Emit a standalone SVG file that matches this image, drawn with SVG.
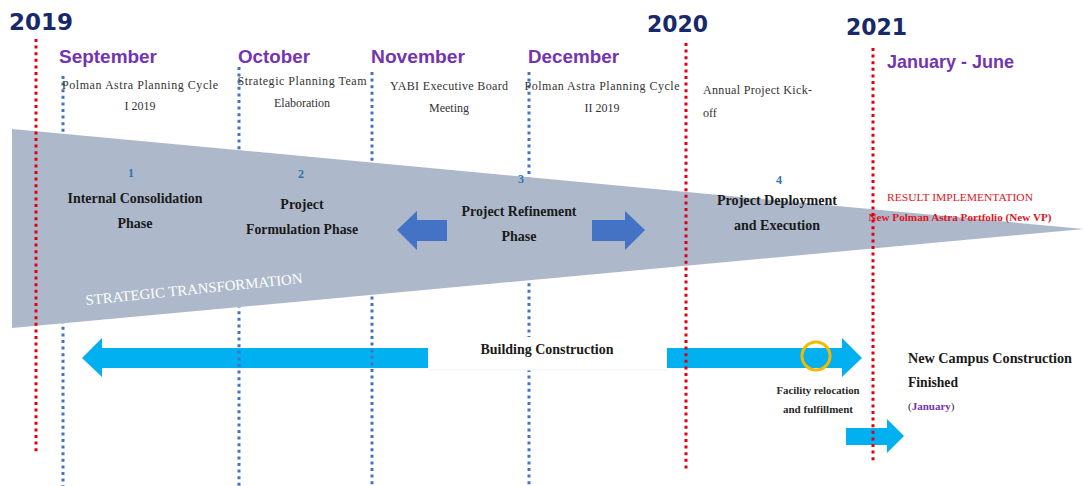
<svg xmlns="http://www.w3.org/2000/svg" width="1084" height="486" viewBox="0 0 1084 486">
  <style>
    .year { font-family: "DejaVu Sans", "Liberation Sans", sans-serif; font-weight: bold; font-size: 23px; fill: #17296b; }
    .month { font-family: "Liberation Sans", Arial, sans-serif; font-weight: bold; font-size: 19px; fill: #7434b0; }
    .note { font-family: "Liberation Serif", serif; font-size: 12px; fill: #333333; }
    .phase { font-family: "Liberation Serif", serif; font-weight: bold; font-size: 14px; fill: #1a1a1a; text-anchor: middle; }
    .num { font-family: "Liberation Serif", serif; font-weight: bold; font-size: 12px; fill: #2e75b6; text-anchor: middle; }
    .result { font-family: "Liberation Serif", serif; font-size: 11px; fill: #e0151f; text-anchor: middle; }
    .label { font-family: "Liberation Serif", serif; font-weight: bold; font-size: 14px; fill: #1a1a1a; }
    .small { font-family: "Liberation Serif", serif; font-weight: bold; font-size: 11px; fill: #2a2a2a; text-anchor: middle; }
    .mid { text-anchor: middle; }
    .red-dots { stroke: #e00010; stroke-width: 3; stroke-dasharray: 3 3.6; fill: none; }
    .blue-dots { stroke: #4472c4; stroke-width: 3; stroke-dasharray: 3 3.6; fill: none; }
    .cyan { fill: #00b0f0; }
    .blue-arrow { fill: #4472c4; }
  </style>

  <!-- construction arrows (under the month markers) -->
  <g id="construction-arrows">
    <polygon class="cyan" points="82,358 102,338 102,348 428,348 428,368 102,368 102,377"/>
    <polygon class="cyan" points="667,348 842,348 842,338 862,358 842,377 842,368 667,368"/>
    <polygon class="cyan" points="846,428 887,428 887,419 904,436 887,453 887,445 846,445"/>
  </g>

  <!-- month markers -->
  <g id="month-lines">
    <line class="blue-dots" x1="63" y1="76" x2="63" y2="486"/>
    <line class="blue-dots" x1="239" y1="67" x2="239" y2="486"/>
    <line class="blue-dots" x1="372" y1="72" x2="372" y2="486"/>
    <line class="blue-dots" x1="529" y1="72" x2="529" y2="486"/>
  </g>

  <!-- building construction label -->
  <g id="building-construction">
    <rect x="428" y="337" width="239" height="33" fill="#ffffff"/>
    <line x1="428" y1="370" x2="667" y2="370" stroke="#f3f3f3" stroke-width="1"/>
    <text class="label mid" x="547" y="354" textLength="133" lengthAdjust="spacingAndGlyphs">Building Construction</text>
  </g>

  <!-- strategic transformation wedge -->
  <g id="strategic-transformation">
    <polygon points="12,129 1084,229 12,328" fill="#adb9ca"/>
    <text x="86" y="305" transform="rotate(-5.8 86 305)" font-family="Liberation Serif, serif" font-size="14.5" fill="#ffffff" textLength="218" lengthAdjust="spacingAndGlyphs">STRATEGIC TRANSFORMATION</text>
  </g>

  <g id="phase-1">
    <text class="num" x="131" y="177">1</text>
    <text class="phase" x="135" y="203" textLength="135" lengthAdjust="spacingAndGlyphs">Internal Consolidation</text>
    <text class="phase" x="135" y="228">Phase</text>
  </g>

  <g id="phase-2">
    <text class="num" x="301" y="178">2</text>
    <text class="phase" x="302" y="209">Project</text>
    <text class="phase" x="302" y="234" textLength="112" lengthAdjust="spacingAndGlyphs">Formulation Phase</text>
  </g>

  <g id="phase-3">
    <text class="num" x="521" y="183">3</text>
    <text class="phase" x="519" y="216" textLength="115" lengthAdjust="spacingAndGlyphs">Project Refinement</text>
    <text class="phase" x="519" y="241">Phase</text>
    <polygon class="blue-arrow" points="397,230 417,211 417,220 447,220 447,241 417,241 417,250"/>
    <polygon class="blue-arrow" points="592,220 625,220 625,211 645,230 625,250 625,241 592,241"/>
  </g>

  <g id="phase-4">
    <text class="num" x="779" y="184">4</text>
    <text class="phase" x="777" y="205" textLength="120" lengthAdjust="spacingAndGlyphs">Project Deployment</text>
    <text class="phase" x="777" y="230" textLength="86" lengthAdjust="spacingAndGlyphs">and Execution</text>
  </g>

  <g id="result-implementation">
    <text class="result" x="960" y="201" textLength="146" lengthAdjust="spacingAndGlyphs">RESULT IMPLEMENTATION</text>
    <text class="result" x="960" y="221" font-weight="bold" textLength="183" lengthAdjust="spacingAndGlyphs">New Polman Astra Portfolio (New VP)</text>
  </g>

  <!-- year markers -->
  <g id="year-lines">
    <line class="red-dots" x1="36" y1="39" x2="36" y2="453"/>
    <line class="red-dots" x1="686" y1="43" x2="686" y2="470"/>
    <line class="red-dots" x1="873" y1="48" x2="873" y2="463"/>
  </g>

  <g id="years">
    <text class="year" x="9" y="30" textLength="64" lengthAdjust="spacingAndGlyphs">2019</text>
    <text class="year" x="647" y="32" textLength="61" lengthAdjust="spacingAndGlyphs">2020</text>
    <text class="year" x="846" y="35" textLength="61" lengthAdjust="spacingAndGlyphs">2021</text>
  </g>

  <g id="september">
    <text class="month" x="59" y="63" textLength="98" lengthAdjust="spacingAndGlyphs">September</text>
    <text class="note mid" x="140" y="89" textLength="156" lengthAdjust="spacing">Polman Astra Planning Cycle</text>
    <text class="note mid" x="140" y="110">I 2019</text>
  </g>

  <g id="october">
    <text class="month" x="238" y="63" textLength="72" lengthAdjust="spacingAndGlyphs">October</text>
    <text class="note mid" x="302" y="85" textLength="129" lengthAdjust="spacing">Strategic Planning Team</text>
    <text class="note mid" x="302" y="107">Elaboration</text>
  </g>

  <g id="november">
    <text class="month" x="371" y="63" textLength="94" lengthAdjust="spacingAndGlyphs">November</text>
    <text class="note mid" x="449" y="90" textLength="118" lengthAdjust="spacing">YABI Executive Board</text>
    <text class="note mid" x="449" y="112">Meeting</text>
  </g>

  <g id="december">
    <text class="month" x="528" y="63" textLength="91" lengthAdjust="spacingAndGlyphs">December</text>
    <text class="note mid" x="602" y="90" textLength="155" lengthAdjust="spacing">Polman Astra Planning Cycle</text>
    <text class="note mid" x="602" y="112">II 2019</text>
  </g>

  <g id="kick-off">
    <text class="note" x="703" y="94" textLength="109" lengthAdjust="spacing">Annual Project Kick-</text>
    <text class="note" x="703" y="117">off</text>
  </g>

  <g id="january-june">
    <text class="month" x="887" y="68" textLength="127" lengthAdjust="spacingAndGlyphs">January - June</text>
  </g>

  <g id="facility-relocation">
    <ellipse cx="816" cy="356" rx="14" ry="14" fill="none" stroke="#f5b800" stroke-width="3"/>
    <text class="small" x="818" y="394" textLength="83" lengthAdjust="spacingAndGlyphs">Facility relocation</text>
    <text class="small" x="818" y="413" textLength="70" lengthAdjust="spacingAndGlyphs">and fulfillment</text>
  </g>

  <g id="campus-finished">
    <text class="label" x="908" y="363" textLength="164" lengthAdjust="spacingAndGlyphs">New Campus Construction</text>
    <text class="label" x="908" y="387" textLength="50" lengthAdjust="spacingAndGlyphs">Finished</text>
    <text x="908" y="410" font-family="Liberation Serif, serif" font-size="11" fill="#2a2a2a">(<tspan fill="#7434b0" font-weight="bold">January</tspan>)</text>
  </g>
</svg>
